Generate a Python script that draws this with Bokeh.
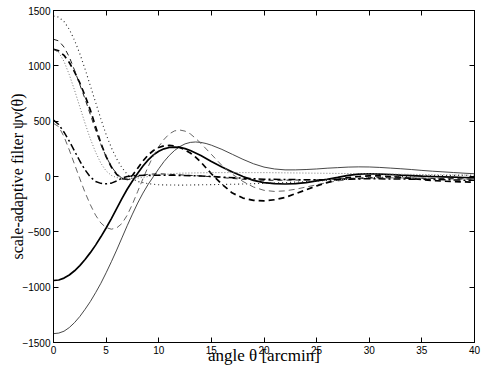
import math
from bokeh.plotting import figure
from bokeh.models import Range1d, FixedTicker, LinearAxis, ColumnDataSource
from bokeh.embed import file_html
from bokeh.resources import INLINE

# ---- data ----
x_ticks = [0, 5, 10, 15, 20, 25, 30, 35, 40]
y_ticks = [-1500, -1000, -500, 0, 500, 1000, 1500]
y_tick_labels = ["\u22121500", "\u22121000", "\u2212500", "0", "500", "1000", "1500"]

# thin solid
a_x = [0, 0.5, 1, 1.5, 2, 2.5, 3, 3.5, 4, 4.5, 5, 5.5, 6, 6.5, 7, 7.5, 8, 8.5, 9, 9.5, 10, 10.5, 11, 11.5,
       12, 12.5, 13, 13.5, 14, 14.5, 15, 16, 17, 18, 19, 20, 21, 22, 23, 24, 25, 26, 27, 28, 29, 30, 31,
       32, 33, 34, 35, 36, 37, 38, 39, 40]
a_y = [-1420, -1415, -1398, -1365, -1320, -1265, -1200, -1130, -1050, -965, -870, -770, -665, -555, -445,
       -340, -240, -150, -70, 0, 70, 135, 190, 235, 270, 295, 308, 312, 308, 298, 283, 245, 200, 155, 115,
       85, 68, 60, 60, 63, 68, 75, 80, 85, 87, 86, 82, 76, 70, 63, 55, 48, 42, 36, 30, 25]

# thick solid
b_x = [0, 0.5, 1, 1.5, 2, 2.5, 3, 3.5, 4, 4.5, 5, 5.5, 6, 6.5, 7, 7.5, 8, 8.5, 9, 9.5, 10, 10.5, 11, 11.5,
       12, 12.5, 13, 14, 15, 16, 17, 18, 19, 20, 21, 22, 23, 24, 25, 26, 27, 28, 29, 30, 31, 32, 33, 34,
       35, 36, 37, 38, 39, 40]
b_y = [-940, -935, -918, -890, -852, -805, -750, -688, -620, -545, -465, -380, -290, -200, -115, -40, 30,
       95, 150, 195, 228, 250, 262, 266, 263, 252, 235, 190, 135, 85, 40, 0, -35, -55, -65, -68, -65, -55,
       -40, -25, -8, 10, 22, 25, 22, 18, 12, 8, 3, 0, -3, -6, -9, -12]

# thin dashed (grey), starts near 480
c_x = [0, 0.5, 1, 1.5, 2, 2.5, 3, 3.5, 4, 4.5, 5, 5.5, 6, 6.5, 7, 7.5, 8, 8.5, 9, 9.5, 10, 10.5, 11, 11.5,
       12, 12.5, 13, 13.5, 14, 15, 16, 17, 18, 19, 20, 21, 22, 23, 24, 25, 26, 27, 28, 29, 30, 32, 35, 40]
c_y = [480, 450, 360, 240, 110, -20, -145, -255, -350, -420, -462, -476, -465, -425, -350, -250, -135,
       -20, 90, 190, 270, 335, 385, 412, 420, 410, 385, 345, 300, 200, 100, 20, -45, -95, -125, -135, -130,
       -115, -95, -75, -55, -40, -28, -20, -15, -12, -14, -20]

# thick dashed, starts near 1150
d_x = [0, 0.5, 1, 1.5, 2, 2.5, 3, 3.5, 4, 4.5, 5, 5.5, 6, 6.5, 7, 7.5, 8, 8.5, 9, 9.5, 10, 10.5, 11, 11.5,
       12, 12.5, 13, 13.5, 14, 15, 16, 17, 18, 19, 20, 21, 22, 23, 24, 25, 26, 27, 28, 29, 30, 31, 32, 33,
       34, 35, 36, 37, 38, 39, 40]
d_y = [1150, 1135, 1095, 1030, 945, 845, 730, 600, 450, 300, 180, 85, 20, -20, -25, 10, 75, 140, 195,
       235, 262, 277, 281, 276, 262, 240, 212, 175, 130, 25, -70, -150, -195, -215, -220, -210, -190, -155,
       -120, -85, -55, -28, -10, 0, 5, 5, 0, -8, -18, -28, -36, -42, -46, -49, -51]

# thin dashed, starts near 1240
e_x = [0, 0.5, 1, 1.5, 2, 2.5, 3, 3.5, 4, 4.5, 5, 5.5, 6, 6.5, 7, 7.5, 8, 9, 10, 12, 14, 16, 18, 20, 25,
       30, 35, 40]
e_y = [1240, 1225, 1170, 1080, 960, 830, 700, 560, 420, 290, 180, 90, 25, -15, -30, -20, 0, 20, 25, 15,
       5, -10, -25, -35, -30, -10, -15, -25]

# dark dotted, starts near 1450
f_x = [0, 0.5, 1, 1.5, 2, 2.5, 3, 3.5, 4, 4.5, 5, 5.5, 6, 6.5, 7, 7.5, 8, 9, 10, 12, 14, 16, 18, 20, 22,
       25, 28, 30, 33, 36, 40]
f_y = [1450, 1440, 1400, 1330, 1230, 1110, 970, 820, 670, 520, 380, 260, 160, 80, 20, -20, -45, -65,
       -75, -78, -75, -72, -68, -62, -55, -42, -25, -12, 0, 8, 12]

# light dotted, starts near 1150
g_x = [0, 0.5, 1, 1.5, 2, 2.5, 3, 3.5, 4, 4.5, 5, 5.5, 6, 7, 8, 9, 10, 12, 15, 20, 25, 30, 35, 40]
g_y = [1150, 1120, 1040, 920, 780, 630, 480, 340, 220, 120, 50, 10, -10, -20, -15, 0, 15, 30, 35, 35,
       30, 25, 18, 12]

# thick dash-dot, starts near 510
h_x = [0, 0.5, 1, 1.5, 2, 2.5, 3, 3.5, 4, 4.5, 5, 5.5, 6, 6.5, 7, 8, 10, 12, 14, 16, 18, 20, 25, 30, 35, 40]
h_y = [510, 470, 400, 320, 230, 140, 60, -5, -45, -62, -66, -60, -40, -15, 0, 10, 12, 10, 5, -5, -15,
       -25, -30, -20, -25, -35]

series = [
    (a_x, a_y, "#333333", 0.9, "solid"),
    (b_x, b_y, "black", 1.7, "solid"),
    (c_x, c_y, "#555555", 0.9, "6 4"),
    (d_x, d_y, "black", 1.7, "6 4"),
    (e_x, e_y, "#222222", 1.0, "5 4"),
    (f_x, f_y, "#222222", 1.1, "1 3"),
    (g_x, g_y, "#777777", 1.0, "1 2"),
    (h_x, h_y, "black", 1.5, "7 3 2 3"),
]

W, H = 484, 372
p = figure(width=W, height=H, output_backend="svg", toolbar_location=None,
           x_range=Range1d(0, 40), y_range=Range1d(-1500, 1500),
           min_border_left=53, min_border_right=10, min_border_top=10, min_border_bottom=30)
p.background_fill_color = "white"
p.border_fill_color = "white"
p.outline_line_color = "black"
p.outline_line_width = 1
p.xgrid.visible = False
p.ygrid.visible = False

for xs, ys, col, lw, dash in series:
    src = ColumnDataSource(data=dict(x=xs, y=ys))
    p.line("x", "y", source=src, line_color=col, line_width=lw, line_dash=dash)

label_font = "Liberation Sans"
serif = "Liberation Serif"

def style_axis(ax, ticks, overrides=None, show_labels=True):
    ax.ticker = FixedTicker(ticks=ticks)
    ax.minor_tick_line_color = None
    ax.major_tick_in = 5
    ax.major_tick_out = 0
    ax.major_tick_line_color = "black"
    ax.axis_line_color = "black"
    if show_labels:
        ax.major_label_text_font = label_font
        ax.major_label_text_font_size = "10px"
        ax.major_label_text_color = "black"
        ax.major_label_standoff = 3
        if overrides:
            ax.major_label_overrides = overrides
    else:
        ax.major_label_overrides = {t: "" for t in ticks}
        ax.major_label_standoff = 0
        ax.major_label_text_font_size = "0px"

style_axis(p.xaxis[0], x_ticks)
style_axis(p.yaxis[0], y_ticks, {t: l for t, l in zip(y_ticks, y_tick_labels)})

xa = p.xaxis[0]
xa.axis_label = "angle \u03b8 [arcmin]"
xa.axis_label_text_font = serif
xa.axis_label_text_font_style = "normal"
xa.axis_label_text_font_size = "17px"
xa.axis_label_text_color = "black"
xa.axis_label_standoff = -11

ya = p.yaxis[0]
ya.axis_label = "scale-adaptive filter \u03c8\u03bd(\u03b8)"
ya.axis_label_text_font = serif
ya.axis_label_text_font_style = "normal"
ya.axis_label_text_font_size = "16px"
ya.axis_label_text_color = "black"
ya.axis_label_standoff = -7

top = LinearAxis()
style_axis(top, x_ticks, show_labels=False)
p.add_layout(top, "above")
right = LinearAxis()
style_axis(right, y_ticks, show_labels=False)
p.add_layout(right, "right")

open("out.html", "w").write(file_html(p, INLINE))
